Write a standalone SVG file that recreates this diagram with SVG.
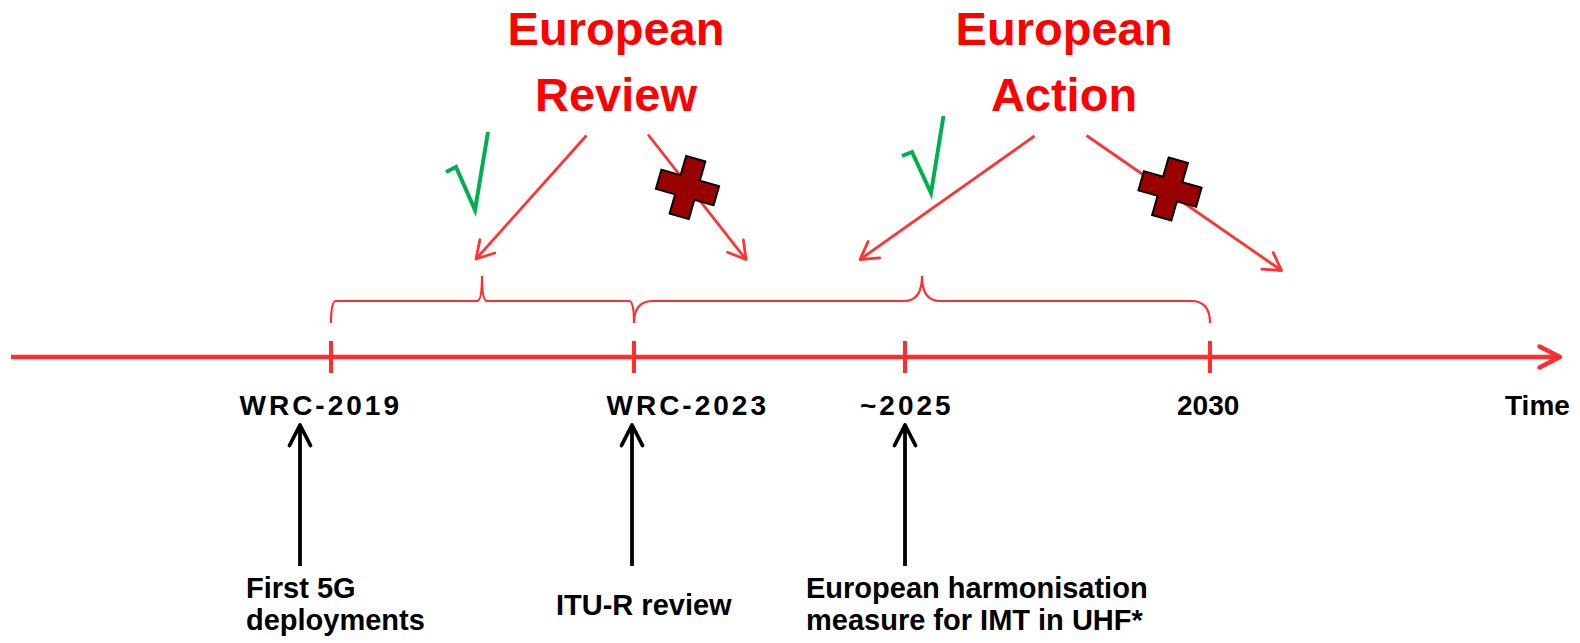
<svg xmlns="http://www.w3.org/2000/svg" width="1580" height="643" viewBox="0 0 1580 643">
<style>
.title{font-family:"Liberation Sans",Arial,sans-serif;font-weight:bold;font-size:47px;fill:#FF0000;text-anchor:middle}
.lbl{font-family:"Liberation Sans",Arial,sans-serif;font-weight:bold;font-size:28px;fill:#000}
.note{font-family:"Liberation Sans",Arial,sans-serif;font-weight:bold;font-size:29px;fill:#000}
.sp{letter-spacing:3px}
.axis{stroke:#FF2E2E;stroke-width:4.5;fill:none}
.tick{stroke:#FF2E2E;stroke-width:4;fill:none}
.brace{stroke:#FF2E2E;stroke-width:2.2;fill:none}
.rarrow{stroke:#FF3333;stroke-width:2.8;fill:none;marker-end:url(#mRed)}
.karrow{stroke:#000;stroke-width:3.8;fill:none;marker-end:url(#mBlack)}
.check{stroke:#00B050;stroke-width:4;fill:none;stroke-linejoin:miter}
.cross{fill:#990000;stroke:#000;stroke-width:2;stroke-linejoin:miter}
</style>
<defs>
<marker id="mRed" markerUnits="userSpaceOnUse" markerWidth="40" markerHeight="40" viewBox="-25 -20 30 40" refX="0" refY="0" orient="auto" overflow="visible">
<path d="M-17,-10 L0,0 L-17,10" fill="none" stroke="#FF3333" stroke-width="2.8" stroke-linecap="round" stroke-linejoin="round"/>
</marker>
<marker id="mBlack" markerUnits="userSpaceOnUse" markerWidth="40" markerHeight="40" viewBox="-25 -20 30 40" refX="0" refY="0" orient="auto" overflow="visible">
<path d="M-20.5,-10.5 L0,0 L-20.5,10.5" fill="none" stroke="#000" stroke-width="3.8" stroke-linecap="round" stroke-linejoin="round"/>
</marker>
<marker id="mAxis" markerUnits="userSpaceOnUse" markerWidth="40" markerHeight="40" viewBox="-25 -20 30 40" refX="0" refY="0" orient="auto" overflow="visible">
<path d="M-20.5,-10.5 L0,0 L-20.5,10.5" fill="none" stroke="#FF2E2E" stroke-width="4.5" stroke-linecap="round" stroke-linejoin="round"/>
</marker>
<polygon id="plus" points="-10,-30 10,-30 10,-10 30,-10 30,10 10,10 10,30 -10,30 -10,10 -30,10 -30,-10 -10,-10"/>
</defs>

<g id="timeline">
<path class="axis" d="M11,357 L1560,357" marker-end="url(#mAxis)"/>
<path class="tick" d="M331,341 V373 M634,341 V373 M905,341 V373 M1210,341 V373"/>
</g>

<g id="braces">
<path class="brace" d="M331,323 Q331,301 336,301 L477,301 Q482,301 482,276 Q482,301 487,301 L629,301 Q634,301 634,323"/>
<path class="brace" d="M634,323 Q634,301 653,301 L904,301 Q922,301 922,276 Q922,301 940,301 L1191,301 Q1210,301 1210,323"/>
</g>

<g id="european-review">
<text class="title" x="616" y="45">European</text>
<text class="title" x="616" y="111">Review</text>
</g>
<g id="european-action">
<text class="title" x="1064" y="45">European</text>
<text class="title" x="1064" y="111">Action</text>
</g>

<g id="connectors">
<path class="rarrow" d="M586.5,135.5 L476,259"/>
<path class="rarrow" d="M648,134.5 L746,259.5"/>
<path class="rarrow" d="M1034.5,136 L860,259.5"/>
<path class="rarrow" d="M1086.5,135.5 L1281.5,270.5"/>
<path class="karrow" d="M300,566 L300,425"/>
<path class="karrow" d="M632,566 L632,425"/>
<path class="karrow" d="M905,566 L905,425"/>
</g>

<g id="check-review"><path class="check" d="M446,172 L456,167 L475,210 L488,132"/></g>
<g id="check-action"><path class="check" d="M902,156 L912,152 L931,193 L943.5,116"/></g>
<g id="cross-review"><use href="#plus" class="cross" transform="translate(687.5,187.5) rotate(16)"/></g>
<g id="cross-action"><use href="#plus" class="cross" transform="translate(1170,189) rotate(16)"/></g>

<g id="label-wrc2019"><text class="lbl sp" x="239.5" y="415">WRC-2019</text></g>
<g id="label-wrc2023"><text class="lbl sp" x="606.5" y="415">WRC-2023</text></g>
<g id="label-2025"><text class="lbl sp" x="860" y="415">~2025</text></g>
<g id="label-2030"><text class="lbl" x="1177" y="415">2030</text></g>
<g id="label-time"><text class="lbl" x="1505" y="415">Time</text></g>

<g id="note-first5g"><text class="note" x="246" y="598">First 5G</text><text class="note" x="246" y="630">deployments</text></g>
<g id="note-itur"><text class="note" x="556" y="615">ITU-R review</text></g>
<g id="note-harmonisation"><text class="note" x="806" y="598">European harmonisation</text><text class="note" x="806" y="630">measure for IMT in UHF*</text></g>
</svg>
